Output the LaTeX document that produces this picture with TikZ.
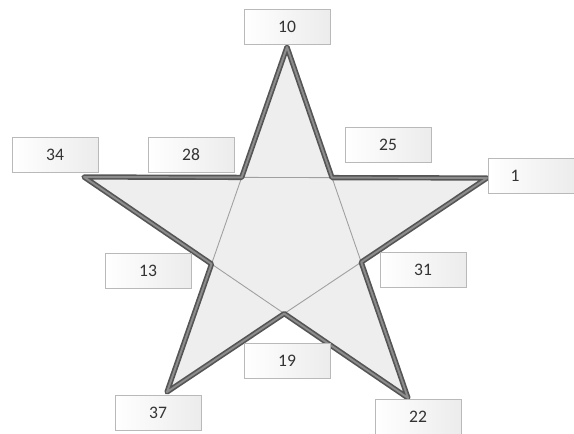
\documentclass[tikz,border=0pt]{standalone}
\usepackage{fontspec}
\setmainfont{Carlito}
\definecolor{edge}{HTML}{555555}
\definecolor{core}{HTML}{8C8C8C}
\definecolor{starfill}{HTML}{EEEEEE}

\begin{document}
\begin{tikzpicture}[x=.02cm,y=-.02cm,
  numbox/.style={draw=gray!55,left color=white,right color=gray!15,
    minimum width=1.72cm,minimum height=.7cm,inner sep=1pt,
    font=\fontsize{10}{12}\selectfont,text=black!80}]
  \useasboundingbox (0,0) rectangle (574,433);
  \coordinate (T) at (287,47);
  \coordinate (R) at (487,178);
  \coordinate (L) at (84,177);
  \coordinate (BL) at (167,392);
  \coordinate (BR) at (408,398);
  \coordinate (UL) at (intersection of T--BL and L--R);
  \coordinate (UR) at (intersection of T--BR and L--R);
  \coordinate (MR) at (intersection of R--BL and T--BR);
  \coordinate (MB) at (intersection of L--BR and R--BL);
  \coordinate (ML) at (intersection of L--BR and T--BL);
  \fill[starfill] (T)--(UR)--(R)--(MR)--(BR)--(MB)--(BL)--(ML)--(L)--(UL)--cycle;
  \draw[gray!75,line width=.5pt] (UL)--(UR)--(MR)--(MB)--(ML)--cycle;
  \draw[edge,line width=3pt,line join=round] (T)--(UR)--(R)--(MR)--(BR)--(MB)--(BL)--(ML)--(L)--(UL)--cycle;
  \draw[core,line width=1.1pt,line join=round] (T)--(UR)--(R)--(MR)--(BR)--(MB)--(BL)--(ML)--(L)--(UL)--cycle;
  \node[numbox] (n10) at (287,27) {10};
  \node[numbox] (n34) at (55,155) {34};
  \node[numbox] (n28) at (191,155) {28};
  \node[numbox] (n25) at (388,145) {25};
  \node[numbox,text width=.82cm,inner xsep=.45cm,align=left] (n1) at (531,176) {1};
  \node[numbox] (n13) at (148,271) {13};
  \node[numbox] (n31) at (423,270) {31};
  \node[numbox] (n19) at (287,361) {19};
  \node[numbox] (n37) at (158,413) {37};
  \node[numbox] (n22) at (418,417) {22};
\end{tikzpicture}
\end{document}
